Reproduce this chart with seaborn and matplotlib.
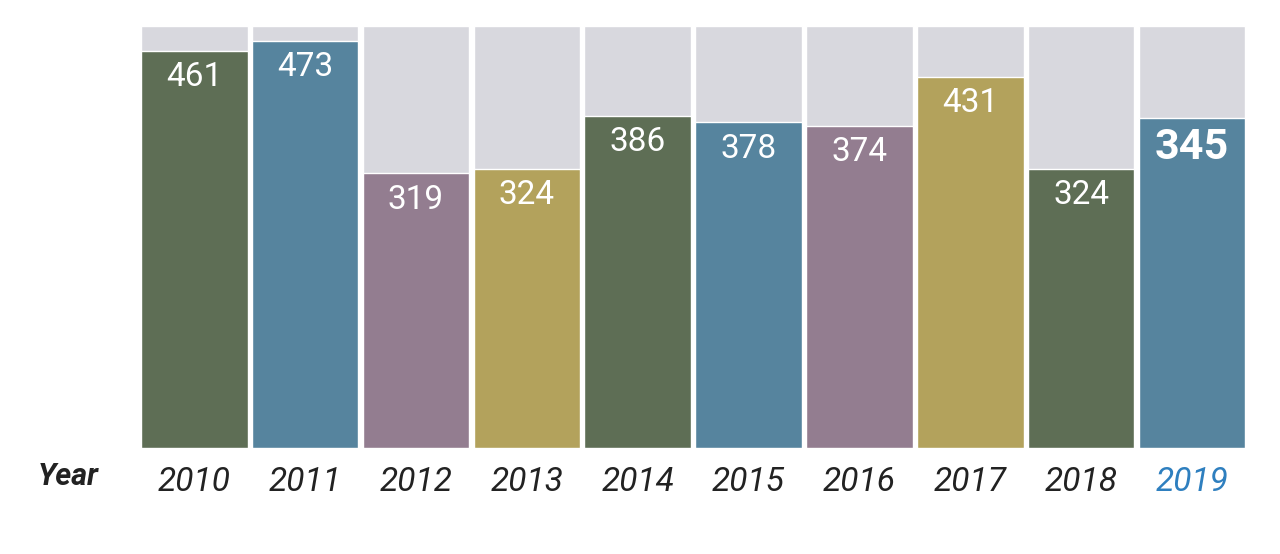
import matplotlib
matplotlib.use('Agg')
import matplotlib.pyplot as plt
import seaborn as sns
import pandas as pd

sns.set_style('white')
plt.rcParams['font.family'] = ['Roboto', 'DejaVu Sans']

years = ['2010', '2011', '2012', '2013', '2014', '2015', '2016', '2017', '2018', '2019']
# bar heights as drawn in the picture (2019 column is drawn taller than its label)
heights = [461, 473, 319, 324, 386, 378, 374, 431, 324, 383]
labels = ['461', '473', '319', '324', '386', '378', '374', '431', '324', '345']
bar_colors = ['#5e6e55', '#56849e', '#937d90', '#b3a25c', '#5e6e55',
              '#56849e', '#937d90', '#b3a25c', '#5e6e55', '#56849e']
scale_max = 490

df = pd.DataFrame({'year': years, 'count': heights})

fig = plt.figure(figsize=(12.8, 5.54), dpi=100)
ax = fig.add_axes([0.1085, 0.1913, 0.866, 0.7617])

# grey background columns
sns.barplot(x=years, y=[scale_max] * len(years), color='#d8d8de', width=0.961,
            saturation=1, ax=ax)
sns.barplot(data=df, x='year', y='count', hue='year', palette=bar_colors,
            width=0.961, saturation=1, legend=False, ax=ax)

for i, (v, lab) in enumerate(zip(heights, labels)):
    if i == len(heights) - 1:
        ax.text(i, v - 10, lab, ha='center', va='top', color='white',
                fontsize=31, fontweight='bold')
    else:
        ax.text(i, v - 12, lab, ha='center', va='top', color='white', fontsize=24)

ax.set_ylim(0, scale_max)
ax.set_xlim(-0.5, len(years) - 0.5)
ax.set_yticks([])
ax.set_xlabel('')
ax.set_ylabel('')
ax.tick_params(axis='x', length=0, pad=13)
ax.set_xticks(range(len(years)))
ax.set_xticklabels(years, fontsize=24, fontstyle='italic', color='#222222')
ax.get_xticklabels()[-1].set_color('#2e7fbf')
for s in ax.spines.values():
    s.set_visible(False)

fig.text(0.053, 0.14, 'Year', ha='center', va='center', fontsize=22,
         fontweight='bold', fontstyle='italic', color='#222222')

fig.savefig('out.png', dpi=100, facecolor='white')
